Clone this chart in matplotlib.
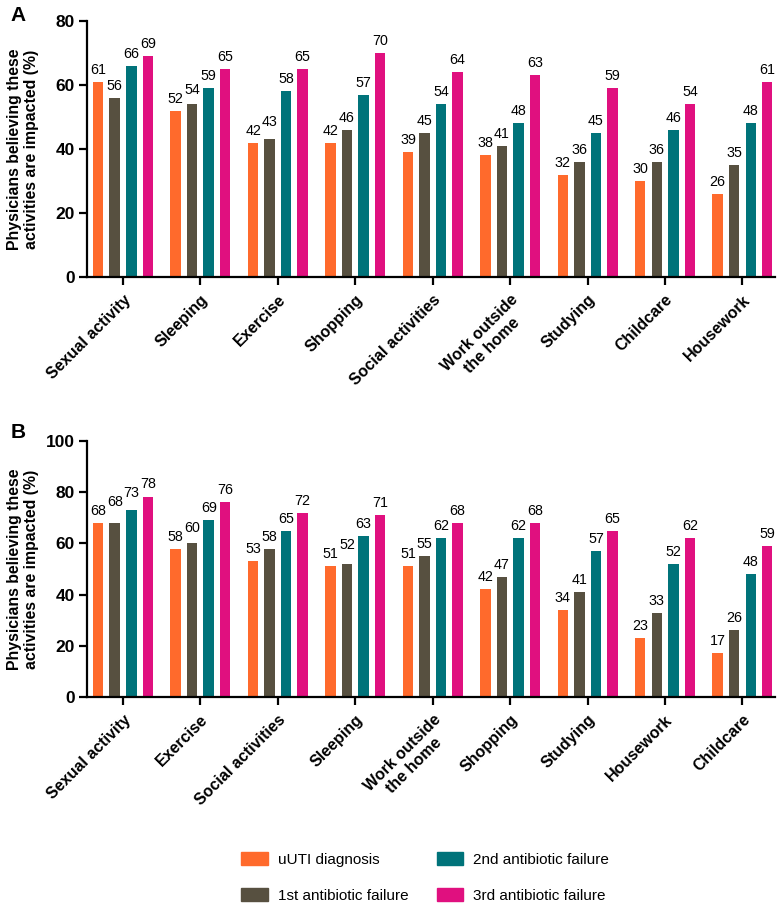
import numpy as np
import matplotlib
matplotlib.use('Agg')
import matplotlib.pyplot as plt
from matplotlib.patches import Patch

plt.rcParams['font.family'] = ['Liberation Sans', 'DejaVu Sans']

# Panel A data
cats_a = ['Sexual activity', 'Sleeping', 'Exercise', 'Shopping', 'Social activities',
          'Work outside\nthe home', 'Studying', 'Childcare', 'Housework']
uuti_a = [61, 52, 42, 42, 39, 38, 32, 30, 26]
fail1_a = [56, 54, 43, 46, 45, 41, 36, 36, 35]
fail2_a = [66, 59, 58, 57, 54, 48, 45, 46, 48]
fail3_a = [69, 65, 65, 70, 64, 63, 59, 54, 61]

# Panel B data
cats_b = ['Sexual activity', 'Exercise', 'Social activities', 'Sleeping',
          'Work outside\nthe home', 'Shopping', 'Studying', 'Housework', 'Childcare']
uuti_b = [68, 58, 53, 51, 51, 42, 34, 23, 17]
fail1_b = [68, 60, 58, 52, 55, 47, 41, 33, 26]
fail2_b = [73, 69, 65, 63, 62, 62, 57, 52, 48]
fail3_b = [78, 76, 72, 71, 68, 68, 65, 62, 59]

series_names = ['uUTI diagnosis', '1st antibiotic failure',
                '2nd antibiotic failure', '3rd antibiotic failure']
colors = ['#FF6A2C', '#575040', '#00737A', '#E0107F']

W, H = 779, 906
fig = plt.figure(figsize=(W / 100, H / 100), dpi=100)
ax_a = fig.add_axes([87 / W, 1 - 277 / H, 688 / W, 256 / H])
ax_b = fig.add_axes([87 / W, 1 - 697 / H, 688 / W, 256 / H])


def draw_panel(ax, cats, series, ymax):
    x = np.arange(len(cats))
    offsets = [-0.32, -0.107, 0.107, 0.32]
    w = 0.135
    px_per_unit = 256 / ymax
    prev_pos = [None] * len(cats)
    for vals, off, c in zip(series, offsets, colors):
        bars = ax.bar(x + off, vals, width=w, color=c, zorder=2)
        for i, (b, v) in enumerate(zip(bars, vals)):
            # label bottom in pixels above zero; stagger close neighbours
            pos = v * px_per_unit + 5
            if prev_pos[i] is not None and -9 < pos - prev_pos[i] < 9:
                pos = prev_pos[i] + 9
            prev_pos[i] = pos
            ax.annotate(str(v), (b.get_x() + b.get_width() / 2, v),
                        xytext=(0, (pos - v * px_per_unit) * 0.72),
                        textcoords='offset points',
                        ha='center', va='bottom', fontsize=10.3)
    ax.set_ylim(0, ymax)
    ax.set_xlim(-0.465, 8.42)
    ax.set_yticks(np.arange(0, ymax + 1, 20))
    ax.set_xticks(x)
    ax.set_xticklabels(cats, rotation=45, ha='right', rotation_mode='anchor',
                       fontweight='bold', fontsize=11.5, multialignment='center')
    for lab in ax.get_yticklabels():
        lab.set_fontweight('bold')
        lab.set_fontsize(12.5)
    ax.spines['top'].set_visible(False)
    ax.spines['right'].set_visible(False)
    ax.spines['left'].set_linewidth(1.6)
    ax.spines['bottom'].set_linewidth(1.6)
    ax.tick_params(axis='both', width=1.6, length=6, pad=3)
    ax.tick_params(axis='x', pad=5)
    ax.set_ylabel('Physicians believing these\nactivities are impacted (%)',
                  fontweight='bold', fontsize=11.4, linespacing=1.15)
    ax.yaxis.set_label_coords(-0.07, 0.5)


draw_panel(ax_a, cats_a, [uuti_a, fail1_a, fail2_a, fail3_a], 80)
draw_panel(ax_b, cats_b, [uuti_b, fail1_b, fail2_b, fail3_b], 100)

fig.text(10 / W, 1 - 6 / H, 'A', fontsize=15, fontweight='bold', va='top', ha='left')
fig.text(11 / W, 1 - 423 / H, 'B', fontsize=15, fontweight='bold', va='top', ha='left')

handles = [Patch(color=c) for c in colors]
fig.legend(handles, series_names, ncol=2, loc='upper left',
           bbox_to_anchor=(241 / W, 1 - 852 / H), frameon=False, fontsize=11,
           borderpad=0, borderaxespad=0,
           handlelength=1.75, handleheight=0.92, handletextpad=0.65,
           columnspacing=1.85, labelspacing=1.4)

fig.savefig('out.png', dpi=100)
